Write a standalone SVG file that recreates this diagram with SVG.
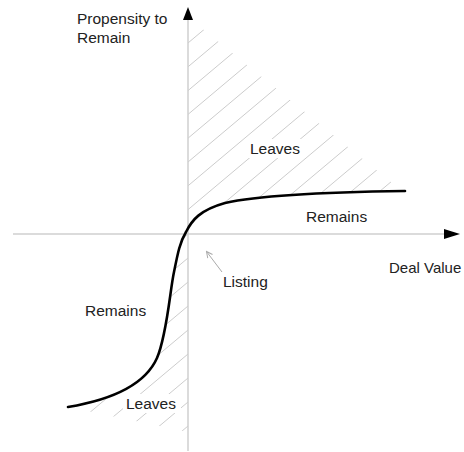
<svg xmlns="http://www.w3.org/2000/svg" width="464" height="452" viewBox="0 0 464 452">
  <style>
    .lbl { font-family: "Liberation Sans", Arial, sans-serif; font-size: 15.5px; fill: #222; }
    .axis { stroke: #cfcfcf; stroke-width: 1.5; fill: none; }
    .hatch { stroke: #cccccc; stroke-width: 1; fill: none; }
    .curve { stroke: #000; stroke-width: 2.6; fill: none; stroke-linecap: round; }
    .head { fill: #000; }
  </style>
  <defs>
    <clipPath id="clipUpper">
      <path d="M188,17 L401,190 L405,191 C330,192 260,195 225,203 C200,210 192,220 186,232 L188,234 Z"/>
    </clipPath>
    <clipPath id="clipLower">
      <path d="M188,234 L186,232 C180,242 178,252 174,272 C170,290 167,335 157,358 C145,385 110,400 68,407 L97,413 L188,432 Z"/>
    </clipPath>
    <marker id="openArrow" markerWidth="8" markerHeight="8" refX="7" refY="4" orient="auto" markerUnits="userSpaceOnUse">
      <path d="M1,1 L7,4 L1,7" fill="none" stroke="#aaaaaa" stroke-width="1"/>
    </marker>
  </defs>

  <g id="hatch-upper" clip-path="url(#clipUpper)">
    <line class="hatch" x1="188" y1="43" x2="430" y2="-160.3"/>
    <line class="hatch" x1="188" y1="66.8" x2="430" y2="-136.5"/>
    <line class="hatch" x1="188" y1="90.6" x2="430" y2="-112.7"/>
    <line class="hatch" x1="188" y1="114.4" x2="430" y2="-88.9"/>
    <line class="hatch" x1="188" y1="138.2" x2="430" y2="-65.1"/>
    <line class="hatch" x1="188" y1="162" x2="430" y2="-41.3"/>
    <line class="hatch" x1="188" y1="185.8" x2="430" y2="-17.5"/>
    <line class="hatch" x1="188" y1="209.6" x2="430" y2="6.3"/>
    <line class="hatch" x1="188" y1="233.4" x2="430" y2="30.1"/>
    <line class="hatch" x1="188" y1="257.2" x2="430" y2="53.9"/>
    <line class="hatch" x1="188" y1="281" x2="430" y2="77.7"/>
    <line class="hatch" x1="188" y1="304.8" x2="430" y2="101.5"/>
    <line class="hatch" x1="188" y1="328.6" x2="430" y2="125.3"/>
    <line class="hatch" x1="188" y1="352.4" x2="430" y2="149.1"/>
    <line class="hatch" x1="188" y1="376.2" x2="430" y2="172.9"/>
    <line class="hatch" x1="188" y1="400" x2="430" y2="196.7"/>
  </g>

  <g id="hatch-lower" clip-path="url(#clipLower)">
    <line class="hatch" x1="188" y1="234" x2="50" y2="349.9"/>
    <line class="hatch" x1="188" y1="258" x2="50" y2="373.9"/>
    <line class="hatch" x1="188" y1="282" x2="50" y2="397.9"/>
    <line class="hatch" x1="188" y1="306" x2="50" y2="421.9"/>
    <line class="hatch" x1="188" y1="330" x2="50" y2="445.9"/>
    <line class="hatch" x1="188" y1="354" x2="50" y2="469.9"/>
    <line class="hatch" x1="188" y1="378" x2="50" y2="493.9"/>
    <line class="hatch" x1="188" y1="402" x2="50" y2="517.9"/>
    <line class="hatch" x1="188" y1="426" x2="50" y2="541.9"/>
  </g>

  <g id="connectors">
    <line class="axis" x1="188" y1="19" x2="188" y2="451"/>
    <polygon class="head" points="188,7 183,20 193,20"/>
    <line class="axis" x1="13" y1="234" x2="446" y2="234"/>
    <polygon class="head" points="460,234 444,229 444,239"/>
    <path class="curve" d="M68,407 C110,400 145,385 157,358 C167,335 170,290 174,272 C178,252 180,242 186,232 C192,220 200,210 225,203 C260,195 330,192 405,191"/>
    <line x1="222" y1="272" x2="206.5" y2="251.5" stroke="#aaaaaa" stroke-width="1" marker-end="url(#openArrow)"/>
  </g>

  <g id="label-y-axis">
    <text class="lbl" x="77" y="24">Propensity to</text>
    <text class="lbl" x="77" y="43">Remain</text>
  </g>
  <g id="label-x-axis">
    <text class="lbl" x="389" y="273" style="font-size:15px">Deal Value</text>
  </g>
  <g id="label-leaves-upper">
    <rect x="247" y="139" width="58" height="19" fill="#fff"/>
    <text class="lbl" x="250" y="154">Leaves</text>
  </g>
  <g id="label-remains-upper">
    <text class="lbl" x="306" y="222">Remains</text>
  </g>
  <g id="label-listing">
    <text class="lbl" x="223" y="287">Listing</text>
  </g>
  <g id="label-remains-lower">
    <text class="lbl" x="85" y="316">Remains</text>
  </g>
  <g id="label-leaves-lower">
    <rect x="123" y="394" width="58" height="19" fill="#fff"/>
    <text class="lbl" x="126" y="409">Leaves</text>
  </g>
</svg>
